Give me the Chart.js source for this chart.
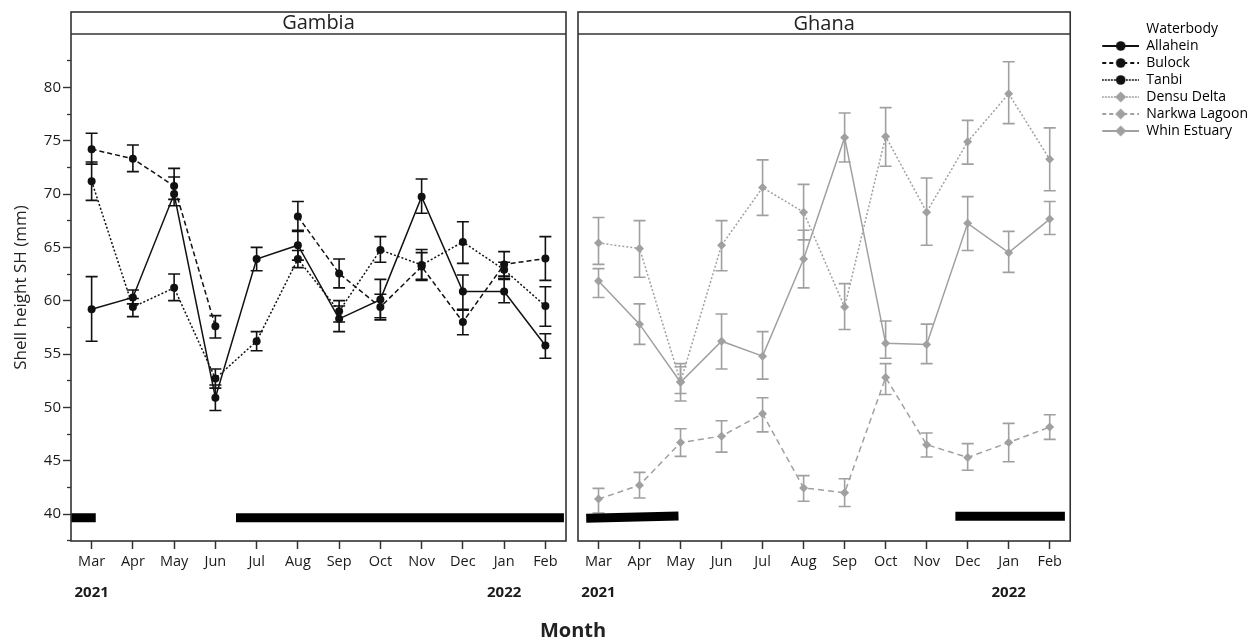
<!DOCTYPE html>
<html>
<head>
<meta charset="utf-8">
<script src="https://cdn.jsdelivr.net/npm/chart.js@4.4.0/dist/chart.umd.min.js"></script>
<style>
    body { margin: 0; background: #fff; width: 1258px; height: 640px; position: relative; overflow: hidden; font-family: 'Open Sans', sans-serif; }
    #gambia { position: absolute; left: 0; top: 0; }
    #ghana { position: absolute; left: 560px; top: 0; }
    #month { position: absolute; left: 473px; top: 616px; width: 200px; text-align: center; font-weight: bold; font-size: 20px; line-height: 28px; color: #222; }
</style>
</head>
<body>
<canvas id="gambia" width="575" height="640"></canvas>
<canvas id="ghana" width="698" height="640"></canvas>
<div id="month">Month</div>
<script>
// months of sampling, Mar 2021 - Feb 2022
var months = ['Mar', 'Apr', 'May', 'Jun', 'Jul', 'Aug', 'Sep', 'Oct', 'Nov', 'Dec', 'Jan', 'Feb'];
var yearLabels = { 0: '2021', 10: '2022' };
var yMajorTicks = [40, 45, 50, 55, 60, 65, 70, 75, 80];
var yMinorTicks = [37.5, 42.5, 47.5, 52.5, 57.5, 62.5, 67.5, 72.5, 77.5, 82.5];

// Gambia
var allahein   = [59.2, 60.3, 70.0, 50.9, 63.9, 65.2, 58.3, 60.1, 69.75, 60.85, 60.85, 55.8];
var allaheinHi = [62.25, 61.0, 71.6, 52.1, 65.0, 66.6, 59.5, 62.0, 71.4, 62.4, 62.0, 56.9];
var allaheinLo = [56.2, 59.7, 68.9, 49.7, 62.8, 63.8, 57.1, 58.2, 68.2, 59.1, 59.8, 54.6];

var bulock   = [74.2, 73.3, 70.75, 57.6, null, 67.9, 62.55, 59.4, 63.2, 58.0, 63.4, 63.95];
var bulockHi = [75.7, 74.6, 72.4, 58.6, null, 69.3, 63.9, 60.6, 64.5, 59.2, 64.6, 66.0];
var bulockLo = [72.8, 72.1, 69.5, 56.5, null, 66.5, 61.2, 58.4, 62.0, 56.8, 62.3, 61.9];

var tanbi   = [71.2, 59.4, 61.2, 52.7, 56.2, 63.9, 59.0, 64.75, 63.35, 65.5, 62.9, 59.5];
var tanbiHi = [73.0, 60.2, 62.5, 53.6, 57.1, 64.7, 60.0, 66.0, 64.8, 67.4, 63.6, 61.3];
var tanbiLo = [69.4, 58.5, 60.0, 51.8, 55.3, 63.1, 58.0, 63.6, 61.9, 63.5, 62.1, 57.6];

// Ghana
var densu   = [65.4, 64.9, 52.4, 65.2, 70.6, 68.3, 59.4, 75.4, 68.3, 74.9, 79.4, 73.25];
var densuHi = [67.8, 67.5, 54.1, 67.5, 73.2, 70.9, 61.6, 78.1, 71.5, 76.9, 82.4, 76.2];
var densuLo = [63.4, 62.2, 51.3, 62.8, 68.0, 65.7, 57.3, 72.6, 65.2, 72.8, 76.6, 70.3];

var narkwa   = [41.4, 42.7, 46.7, 47.3, 49.4, 42.45, 42.0, 52.8, 46.5, 45.3, 46.7, 48.15];
var narkwaHi = [42.4, 43.9, 48.0, 48.75, 50.9, 43.6, 43.3, 54.1, 47.6, 46.6, 48.5, 49.3];
var narkwaLo = [40.1, 41.5, 45.4, 45.8, 47.7, 41.2, 40.7, 51.2, 45.35, 44.1, 44.9, 47.0];

var whin   = [61.85, 57.8, 52.35, 56.2, 54.8, 63.9, 75.3, 56.0, 55.9, 67.25, 64.5, 67.65];
var whinHi = [63.0, 59.7, 53.8, 58.75, 57.1, 66.6, 77.6, 58.1, 57.8, 69.75, 66.5, 69.3];
var whinLo = [60.3, 55.9, 50.6, 53.6, 52.65, 61.2, 73.0, 54.6, 54.1, 64.7, 62.65, 66.2];

// black bars along the bottom: [start, end] in month index, and their level
var gambiaBarsX = [[-0.5, 0.1], [3.5, 11.45]];
var gambiaBarsY = [[39.65, 39.65], [39.65, 39.65]];
var ghanaBarsX = [[-0.3, 1.95], [8.7, 11.37]];
var ghanaBarsY = [[39.6, 39.82], [39.8, 39.8]];

var DARK = '#111111';
var GREY = '#a0a0a0';
var FONT = "'Open Sans', sans-serif";

Chart.defaults.font.family = FONT;
Chart.defaults.color = '#222';

function toPoints(vals) {
    return vals.map(function (v, i) { return { x: i, y: v }; });
}

function series(label, vals, lo, hi, color, dash, style) {
    return {
        label: label,
        data: toPoints(vals),
        errLo: lo,
        errHi: hi,
        borderColor: color,
        backgroundColor: color,
        borderWidth: 1.5,
        borderDash: dash,
        pointStyle: style,
        pointRadius: style === 'rectRot' ? 4.5 : 4,
        pointBorderWidth: 0,
        tension: 0,
        spanGaps: false
    };
}

function barSets(xs, ys) {
    return xs.map(function (r, k) {
        return {
            label: 'bar',
            data: [{ x: r[0], y: ys[k][0] }, { x: r[1], y: ys[k][1] }],
            borderColor: '#000',
            borderWidth: 9,
            borderCapStyle: 'butt',
            pointRadius: 0
        };
    });
}

// vertical error bars with caps, from errLo/errHi of each dataset
var errorBars = {
    id: 'errorBars',
    beforeDatasetsDraw: function (chart) {
        var ctx = chart.ctx;
        var xs = chart.scales.x, ys = chart.scales.y;
        chart.data.datasets.forEach(function (ds) {
            if (!ds.errHi) return;
            ctx.save();
            ctx.strokeStyle = ds.borderColor;
            ctx.lineWidth = 1.6;
            ds.data.forEach(function (p, i) {
                if (p.y === null || ds.errHi[i] === null) return;
                var px = xs.getPixelForValue(p.x);
                var top = ys.getPixelForValue(ds.errHi[i]);
                var bot = ys.getPixelForValue(ds.errLo[i]);
                ctx.beginPath();
                ctx.moveTo(px, top); ctx.lineTo(px, bot);
                ctx.moveTo(px - 6, top); ctx.lineTo(px + 6, top);
                ctx.moveTo(px - 6, bot); ctx.lineTo(px + 6, bot);
                ctx.stroke();
            });
            ctx.restore();
        });
    }
};

// box round the panel with the header strip
var panelFrame = {
    id: 'panelFrame',
    afterDraw: function (chart) {
        var ctx = chart.ctx, a = chart.chartArea;
        var headTop = 12;
        ctx.save();
        ctx.strokeStyle = '#333';
        ctx.lineWidth = 1.6;
        ctx.strokeRect(a.left, headTop, a.right - a.left, a.bottom - headTop);
        ctx.beginPath();
        ctx.moveTo(a.left, a.top);
        ctx.lineTo(a.right, a.top);
        ctx.stroke();
        ctx.restore();
    }
};

function monthAxis() {
    return {
        type: 'linear',
        position: 'bottom',
        weight: 0,
        min: -0.5,
        max: 11.5,
        afterBuildTicks: function (s) { s.ticks = months.map(function (m, i) { return { value: i }; }); },
        afterFit: function (s) { s.height = 36; },
        border: { display: false },
        grid: { drawOnChartArea: false, drawTicks: true, tickLength: 8, tickColor: '#333', tickWidth: 1.5 },
        ticks: {
            autoSkip: false,
            maxRotation: 0,
            padding: 5,
            color: '#1a1a1a',
            font: { size: 14.5, lineHeight: '15.5px' },
            callback: function (v) { return months[v]; }
        }
    };
}

function yearAxis() {
    return {
        type: 'linear',
        position: 'bottom',
        weight: 1,
        min: -0.5,
        max: 11.5,
        afterBuildTicks: function (s) {
            s.ticks = Object.keys(yearLabels).map(function (k) { return { value: Number(k) }; });
        },
        afterFit: function (s) { s.height = 63; },
        border: { display: false },
        grid: { display: false, drawTicks: false },
        ticks: {
            autoSkip: false,
            maxRotation: 0,
            padding: 7,
            color: '#1a1a1a',
            font: { size: 15, weight: 'bold' },
            callback: function (v) { return yearLabels[v]; }
        }
    };
}

function yAxis(show) {
    return {
        display: show,
        position: 'left',
        weight: 1,
        min: 37.47,
        max: 85,
        afterBuildTicks: function (s) { s.ticks = yMajorTicks.map(function (v) { return { value: v }; }); },
        afterFit: function (s) { if (show) s.width = 71; },
        border: { display: false },
        grid: { drawOnChartArea: false, drawTicks: true, tickLength: 8, tickColor: '#333', tickWidth: 1.4 },
        ticks: { padding: 2, color: '#1a1a1a', font: { size: 15 } },
        title: {
            display: true,
            text: 'Shell height SH (mm)',
            color: '#222',
            font: { size: 17 },
            padding: { top: 11, bottom: 0 }
        }
    };
}

function yMinorAxis() {
    return {
        position: 'left',
        weight: 0,
        min: 37.47,
        max: 85,
        afterBuildTicks: function (s) { s.ticks = yMinorTicks.map(function (v) { return { value: v }; }); },
        afterFit: function (s) { s.width = 0; },
        border: { display: false },
        grid: { drawOnChartArea: false, drawTicks: true, tickLength: 4, tickColor: '#333', tickWidth: 1.3 },
        ticks: { display: false }
    };
}

function panelTitle(text) {
    return {
        display: true,
        text: text,
        fullSize: false,
        color: '#222',
        font: { size: 20, lineHeight: '12px', weight: 'normal' },
        padding: { top: 0, bottom: 5 }
    };
}

// legend swatch: line with marker, drawn into a small canvas used as point style
function swatch(color, dash, style) {
    var c = document.createElement('canvas');
    c.width = 66;
    c.height = 14;
    if (!color) return c;
    var g = c.getContext('2d');
    g.strokeStyle = color;
    g.fillStyle = color;
    g.lineWidth = 2;
    g.setLineDash(dash);
    g.beginPath();
    g.moveTo(29, 7);
    g.lineTo(66, 7);
    g.stroke();
    g.setLineDash([]);
    g.beginPath();
    if (style === 'rectRot') {
        g.moveTo(47.5, 1.5); g.lineTo(53, 7); g.lineTo(47.5, 12.5); g.lineTo(42, 7);
    } else {
        g.arc(47.5, 7, 4.8, 0, Math.PI * 2);
    }
    g.fill();
    return c;
}

var legendNames = ['Allahein', 'Bulock', 'Tanbi', 'Densu Delta', 'Narkwa Lagoon', 'Whin Estuary'];
var legendColors = [DARK, DARK, DARK, GREY, GREY, GREY];
var legendDash = [[], [4, 3], [1.5, 1.5], [1.5, 1.5], [4, 3], []];
var legendStyle = ['circle', 'circle', 'circle', 'rectRot', 'rectRot', 'rectRot'];

var legendItems = [{ text: 'Waterbody', pointStyle: swatch(null), fillStyle: 'transparent', strokeStyle: 'transparent', lineWidth: 0, hidden: false }];
legendNames.forEach(function (n, i) {
    legendItems.push({
        text: n,
        pointStyle: swatch(legendColors[i], legendDash[i], legendStyle[i]),
        fillStyle: 'transparent',
        strokeStyle: 'transparent',
        lineWidth: 0,
        hidden: false
    });
});

var gambiaChart = new Chart(document.getElementById('gambia'), {
    type: 'line',
    data: {
        datasets: [
            series('Allahein', allahein, allaheinLo, allaheinHi, DARK, [], 'circle'),
            series('Bulock', bulock, bulockLo, bulockHi, DARK, [5, 3], 'circle'),
            series('Tanbi', tanbi, tanbiLo, tanbiHi, DARK, [2, 2], 'circle')
        ].concat(barSets(gambiaBarsX, gambiaBarsY))
    },
    options: {
        responsive: false,
        animation: false,
        layout: { padding: { top: 17, right: 9, left: 0, bottom: 0 } },
        scales: { x: monthAxis(), xYear: yearAxis(), y: yAxis(true), yMinor: yMinorAxis() },
        plugins: {
            legend: { display: false },
            tooltip: { enabled: false },
            title: panelTitle('Gambia')
        }
    },
    plugins: [errorBars, panelFrame]
});

var ghanaChart = new Chart(document.getElementById('ghana'), {
    type: 'line',
    data: {
        datasets: [
            series('Densu Delta', densu, densuLo, densuHi, GREY, [2, 2], 'rectRot'),
            series('Narkwa Lagoon', narkwa, narkwaLo, narkwaHi, GREY, [6, 4], 'rectRot'),
            series('Whin Estuary', whin, whinLo, whinHi, GREY, [], 'rectRot')
        ].concat(barSets(ghanaBarsX, ghanaBarsY))
    },
    options: {
        responsive: false,
        animation: false,
        layout: { padding: { top: 19, right: 0, left: 18, bottom: 0 } },
        scales: { x: monthAxis(), xYear: yearAxis(), y: yAxis(false) },
        plugins: {
            tooltip: { enabled: false },
            title: { display: true, text: 'Ghana', fullSize: false, color: '#222', font: { size: 20, lineHeight: '10px', weight: 'normal' }, padding: { top: 0, bottom: 5 } },
            legend: {
                display: true,
                position: 'right',
                align: 'start',
                labels: {
                    usePointStyle: true,
                    pointStyleWidth: 66,
                    padding: 3,
                    color: '#222',
                    font: { size: 14 },
                    generateLabels: function () { return legendItems; }
                }
            }
        }
    },
    plugins: [errorBars, panelFrame]
});

// keep the Ghana panel's right edge in line with the reference (x = 1071 on the page)
var extra = ghanaChart.chartArea.right - 511;
if (extra > 0) {
    ghanaChart.options.layout.padding.right = extra;
    ghanaChart.update();
}
</script>
</body>
</html>
